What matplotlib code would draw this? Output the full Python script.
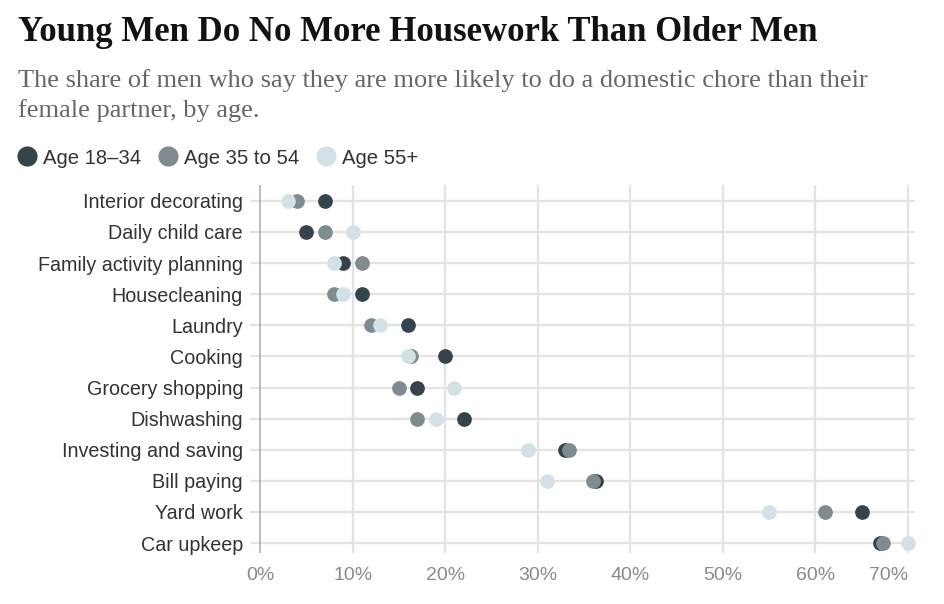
import matplotlib
matplotlib.use("Agg")
import matplotlib.pyplot as plt
from matplotlib.lines import Line2D

# data (share of men, %)
chores = ["Interior decorating", "Daily child care", "Family activity planning",
          "Housecleaning", "Laundry", "Cooking", "Grocery shopping",
          "Dishwashing", "Investing and saving", "Bill paying", "Yard work",
          "Car upkeep"]
age_18_34 = [7, 5, 9, 11, 16, 20, 17, 22, 33, 36.3, 65, 67]
age_35_54 = [4, 7, 11, 8, 12, 16.3, 15, 17, 33.4, 36, 61, 67.3]
age_55_plus = [3, 10, 8, 9, 13, 16, 21, 19, 29, 31, 55, 70]

group_labels = ["Age 18\u201334", "Age 35 to 54", "Age 55+"]
colors = ["#34444a", "#7f8b8f", "#d3e1e7"]
x_ticks = [0, 10, 20, 30, 40, 50, 60, 70]

SANS = ["Liberation Sans", "DejaVu Sans"]
SERIF = ["Liberation Serif", "DejaVu Serif"]

W, H = 944, 604
fig = plt.figure(figsize=(W / 100, H / 100), dpi=100)
fig.patch.set_facecolor("white")

# axes placed in pixel terms: left 250, right 915, top 185, bottom 553
ax = fig.add_axes([250 / W, 1 - 553 / H, 665 / W, 368 / H])
ax.set_xlim(-1.08, 70.76)
ax.set_ylim(11.32, -0.51)

for s in ax.spines.values():
    s.set_visible(False)

rows = list(range(len(chores)))
for r in rows:
    ax.axhline(r, color="#e3e3e3", lw=1.6, zorder=1)
for t in x_ticks[1:]:
    ax.axvline(t, color="#e3e3e3", lw=1.6, zorder=1)
ax.axvline(0, color="#a8a8a8", lw=1.1, zorder=1.5)

series = [age_18_34, age_35_54, age_55_plus]
handles = []
for vals, c, lab in zip(series, colors, group_labels):
    ax.scatter(vals, rows, s=112, color=c, zorder=3, linewidths=0)
    handles.append(Line2D([], [], marker="o", ls="none", color=c,
                          markersize=14.5, markeredgewidth=0))

ax.set_yticks(rows)
ax.set_yticklabels(chores, family=SANS, fontsize=14.2, color="#333333")
ax.set_xticks(x_ticks)
ax.set_xticklabels([f"{t}%" for t in x_ticks], family=SANS, fontsize=14,
                   color="#8a8a8a")
ax.tick_params(axis="both", length=0)
ax.tick_params(axis="y", pad=5)
ax.tick_params(axis="x", pad=10)
ax.get_xticklabels()[-1].set_horizontalalignment("right")

fig.text(18 / W, 1 - 41 / H, "Young Men Do No More Housework Than Older Men",
         family=SERIF, fontsize=25, fontweight="bold", color="#121212",
         va="baseline")
subtitle = ["The share of men who say they are more likely to do a domestic chore than their",
            "female partner, by age."]
for i, line in enumerate(subtitle):
    fig.text(18 / W, 1 - (87 + 30 * i) / H, line, family=SERIF, fontsize=19,
             color="#666666", va="baseline")

fig.legend(handles, group_labels, loc="center left",
           bbox_to_anchor=(18 / W, 1 - 158 / H), ncol=3, frameon=False,
           prop={"family": SANS, "size": 14.6}, labelcolor="#333333",
           handlelength=0.9, handletextpad=0.35, columnspacing=0.85,
           borderpad=0, borderaxespad=0)

fig.savefig("out.png", dpi=100)
